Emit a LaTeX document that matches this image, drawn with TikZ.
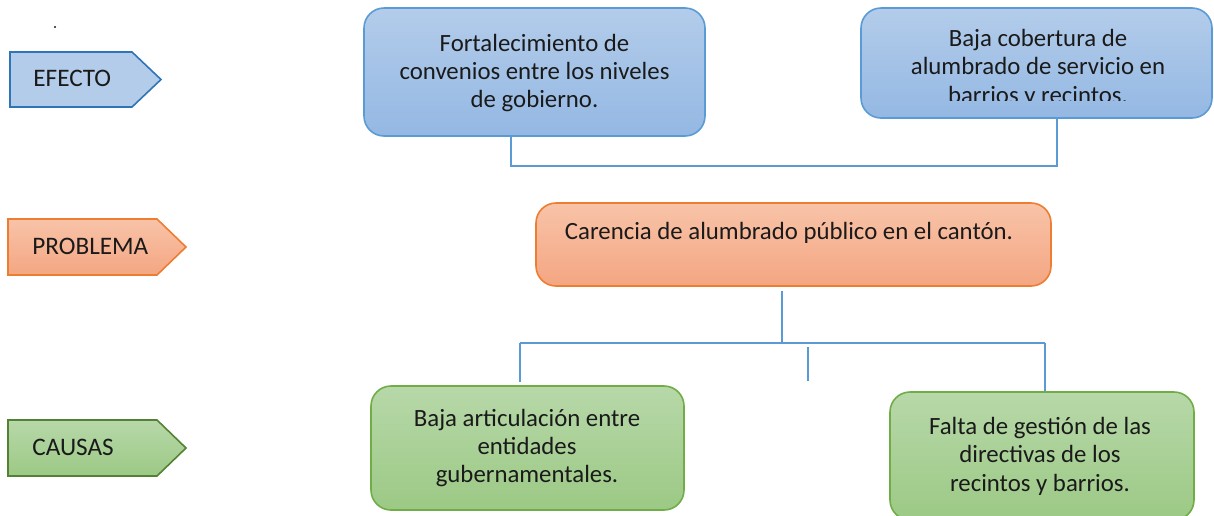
\documentclass[tikz,border=0pt]{standalone}
\usepackage{fontspec}
\setmainfont{Carlito}
\usetikzlibrary{positioning}

\definecolor{azulborde}{HTML}{5B9BD5}
\definecolor{azuloscuro}{HTML}{2E75B6}
\definecolor{azularriba}{HTML}{B3CCEA}
\definecolor{azulabajo}{HTML}{94B8E3}
\definecolor{naranjaborde}{HTML}{ED7D31}
\definecolor{naranjaarriba}{HTML}{F8C3A8}
\definecolor{naranjaabajo}{HTML}{F4A682}
\definecolor{verdeborde}{HTML}{70AD47}
\definecolor{verdeoscuro}{HTML}{548235}
\definecolor{verdearriba}{HTML}{B7D8A9}
\definecolor{verdeabajo}{HTML}{9CC985}
\definecolor{texto}{HTML}{1A1A1A}

\tikzset{
  caja/.style={draw, line width=0.8pt, rounded corners=10pt, inner sep=0pt},
  cajaefecto/.style={caja, draw=azulborde, top color=azularriba, bottom color=azulabajo},
  cajaproblema/.style={caja, draw=naranjaborde, top color=naranjaarriba, bottom color=naranjaabajo},
  cajacausa/.style={caja, draw=verdeborde, top color=verdearriba, bottom color=verdeabajo},
  letra/.style={align=center, text=texto, font=\fontsize{12.4}{14.2}\selectfont},
  enlace/.style={draw=azulborde, line width=0.8pt},
  etiqueta/.style={anchor=west, inner sep=0pt, text=texto, font=\fontsize{12.6}{14.2}\selectfont}
}

\begin{document}
\begin{tikzpicture}[x=0.5pt, y=-0.5pt]
            \useasboundingbox (0,0) rectangle (1214,515);

            % Left tags
            \draw[draw=azuloscuro, line width=0.8pt, fill=azularriba]
              (10,52) -- (132,52) -- (161,79.5) -- (132,107) -- (10,107) -- cycle;
            \draw[draw=naranjaborde, line width=0.8pt, top color=naranjaarriba, bottom color=naranjaabajo]
              (8,219) -- (157,219) -- (186,247) -- (157,275) -- (8,275) -- cycle;
            \draw[draw=verdeoscuro, line width=0.8pt, top color=verdearriba, bottom color=verdeabajo]
              (8,420) -- (157,420) -- (186,448) -- (157,476) -- (8,476) -- cycle;
            \node[etiqueta] (efecto) at (33,78.5) {EFECTO};
            \node[etiqueta] (problema) at (32,246) {PROBLEMA};
            \node[etiqueta] (causas) at (32,447) {CAUSAS};
            \fill[texto] (55,27) circle (1.2);

            % Effects
            \node[cajaefecto, minimum width=170.5pt, minimum height=64pt] (ef1) at (534.5,72) {};
            \node[letra] (ef1txt) at (534.5,73) {Fortalecimiento de\\convenios entre los niveles\\de gobierno.};
            \node[cajaefecto, minimum width=175.5pt, minimum height=55pt] (ef2) at (1036.5,63) {};
            \begin{scope}
              \clip (861,8) rectangle (1212,100);
              \node[letra] (ef2txt) at (1038,68) {Baja cobertura de\\alumbrado de servicio en\\barrios y recintos.};
            \end{scope}

            % Problem
            \node[cajaproblema, minimum width=257.5pt, minimum height=41.5pt] (prob) at (793.5,244.5) {};
            \node[letra] (probtxt) at (789,233) {Carencia de alumbrado público en el cantón.};

            % Causes
            \node[cajacausa, minimum width=156.5pt, minimum height=62pt] (c1) at (527.5,448) {};
            \node[letra] (c1txt) at (527,448) {Baja articulación entre\\entidades\\gubernamentales.};
            \node[cajacausa, minimum width=152pt, minimum height=64pt] (c2) at (1042,456) {};
            \node[letra] (c2txt) at (1040,456) {Falta de gestión de las\\directivas de los\\recintos y barrios.};

            % Connectors
            \coordinate (u1) at (511,166);
            \coordinate (u2) at (1057,166);
            \draw[enlace] (ef1.south -| u1) -- (u1) -- (u2) -- (ef2.south -| u2);

            \coordinate (b0) at (782,343);
            \coordinate (bl) at (520,343);
            \coordinate (br) at (1045,343);
            \coordinate (m1) at (808,347);
            \coordinate (m2) at (808,381);
            \draw[enlace] ([yshift=-2pt]prob.south -| b0) -- (b0);
            \draw[enlace] (bl) -- (br);
            \draw[enlace] (bl) -- ([yshift=1.5pt]c1.north -| bl);
            \draw[enlace] (br) -- (c2.north -| br);
            \draw[enlace] (m1) -- (m2);
\end{tikzpicture}
\end{document}
